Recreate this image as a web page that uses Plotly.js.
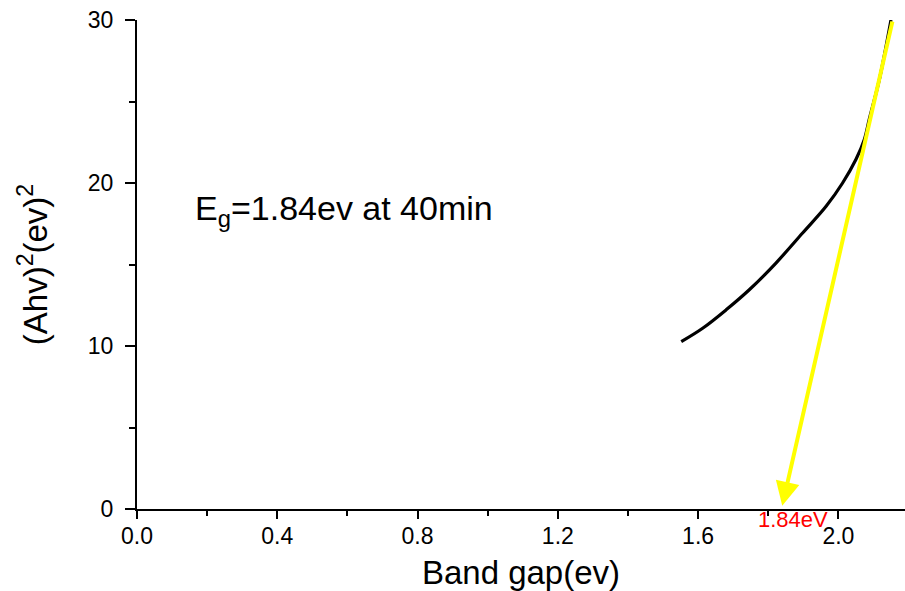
<!DOCTYPE html>
<html>
<head>
<meta charset="utf-8">
<script src="https://cdn.plot.ly/plotly-3.0.1.min.js"></script>
<style>html,body{margin:0;padding:0;background:#fff;}#chart{width:905px;height:591px;}</style>
</head>
<body>
<div id="chart"></div>
<script>
// Tauc plot curve
var bandGap = [1.552, 1.613, 1.680, 1.746, 1.822, 1.898, 1.965, 2.012, 2.050, 2.074, 2.088, 2.117, 2.150];
var ahv2    = [10.27, 11.09, 12.22, 13.45, 15.09, 16.93, 18.57, 20.00, 21.44, 22.67, 23.90, 26.36, 30.00];
// Extrapolated tangent (tail, tip)
var tangentX = [2.155, 1.84];
var tangentY = [30.0, 0.2];
var egValue = 1.84;
var xTicks = [0.0, 0.4, 0.8, 1.2, 1.6, 2.0];
var xTickText = ["0.0", "0.4", "0.8", "1.2", "1.6", "2.0"];
var yTicks = [0, 10, 20, 30];

var font = "Liberation Sans, Arial, sans-serif";

var traces = [{
  x: bandGap, y: ahv2, type: 'scatter', mode: 'lines',
  line: {color: '#000000', width: 3.2, shape: 'spline'},
  showlegend: false, hoverinfo: 'skip'
}];

var layout = {
  width: 905, height: 591,
  margin: {l: 137, r: 0, t: 20, b: 82},
  paper_bgcolor: '#ffffff', plot_bgcolor: '#ffffff',
  font: {family: font, color: '#000'},
  showlegend: false,
  xaxis: {
    range: [0, 2.19], tickvals: xTicks, ticktext: xTickText,
    showgrid: false, zeroline: false, showline: true, linecolor: '#000', linewidth: 2,
    ticks: 'outside', ticklen: 8, tickwidth: 2, tickcolor: '#000',
    tickfont: {size: 23, family: font},
    ticklabelstandoff: -3,
    minor: {dtick: 0.2, tick0: 0, ticks: 'outside', ticklen: 5, tickwidth: 2, tickcolor: '#000'},
    title: {text: 'Band gap(ev)', font: {size: 33, family: font}, standoff: 16}
  },
  yaxis: {
    range: [0, 30], tickvals: yTicks,
    showgrid: false, zeroline: false, showline: true, linecolor: '#000', linewidth: 2,
    ticks: 'outside', ticklen: 10, tickwidth: 2, tickcolor: '#000',
    tickfont: {size: 23, family: font},
    ticklabelstandoff: 7,
    minor: {dtick: 5, tick0: 0, ticks: 'outside', ticklen: 6, tickwidth: 2, tickcolor: '#000'},
    title: {text: '(Ahv)<sup>2</sup>(ev)<sup>2</sup>', font: {size: 33, family: font}, standoff: 30}
  },
  annotations: [
    {
      x: tangentX[1], y: tangentY[1], xref: 'x', yref: 'y',
      ax: tangentX[0], ay: tangentY[0], axref: 'x', ayref: 'y',
      text: '', showarrow: true, arrowhead: 2, arrowsize: 1.2, arrowwidth: 4, arrowcolor: '#ffff00'
    },
    {
      x: 0.591, y: 18.3, xref: 'x', yref: 'y', showarrow: false,
      text: 'E<sub>g</sub>=1.84ev at 40min', font: {size: 34, family: font, color: '#000'}
    },
    {
      x: 1.870, y: -0.022, xref: 'x', yref: 'paper', yanchor: 'middle', xanchor: 'center', showarrow: false,
      text: egValue.toFixed(2) + 'eV', font: {size: 22, family: font, color: '#ff0000'}
    }
  ]
};

Plotly.newPlot('chart', traces, layout, {displayModeBar: false, staticPlot: true});
</script>
</body>
</html>
